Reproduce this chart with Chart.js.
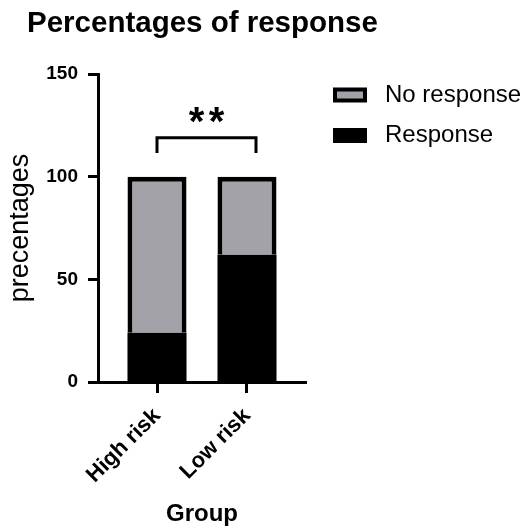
<!DOCTYPE html>
<html>
<head>
<meta charset="utf-8">
<script src="https://cdn.jsdelivr.net/npm/chart.js@4/dist/chart.umd.min.js"></script>
<style>
  html, body { margin: 0; padding: 0; background: #ffffff; }
  #wrap { width: 531px; height: 529px; }
</style>
</head>
<body>
<div id="wrap"><canvas id="chart" width="531" height="529"></canvas></div>
<script>
// ---- data ----
const chartTitle = 'Percentages of response';
const groups = ['High risk', 'Low risk'];
const seriesNames = ['No response', 'Response'];
const responsePct = [24, 62];
const noResponsePct = [76, 38];
const yTicks = [0, 50, 100, 150];
const yTitle = 'precentages';
const xTitle = 'Group';

// significance bracket between the two groups
const bracketSpan = [0, 1.1];       // group positions of the bracket ends
const bracketLevels = [119, 111.5]; // top bar, bottom of the end legs
const starsLevel = 130;
const starsText = '**';

// ---- style ----
const FONT = "'Liberation Sans', Arial, Helvetica, sans-serif";
const GREY = '#a3a2a8';
const BLACK = '#000000';
const X_PAD = 0.6556; // space left/right of the outer groups, in group units

Chart.defaults.font.family = FONT;
Chart.defaults.color = BLACK;

const annotations = {
  id: 'annotations',
  afterDraw(chart) {
    const { ctx, chartArea, scales: { x, y } } = chart;
    ctx.save();

    // title
    ctx.fillStyle = BLACK;
    ctx.font = 'bold 29.5px ' + FONT;
    ctx.textAlign = 'left';
    ctx.textBaseline = 'middle';
    ctx.fillText(chartTitle, 27, 23.5);

    // bracket
    const x0 = x.getPixelForValue(bracketSpan[0]);
    const x1 = x.getPixelForValue(bracketSpan[1]);
    const yTop = y.getPixelForValue(bracketLevels[0]);
    const yLeg = y.getPixelForValue(bracketLevels[1]);
    ctx.strokeStyle = BLACK;
    ctx.lineWidth = 3;
    ctx.lineJoin = 'miter';
    ctx.beginPath();
    ctx.moveTo(x0, yLeg);
    ctx.lineTo(x0, yTop);
    ctx.lineTo(x1, yTop);
    ctx.lineTo(x1, yLeg);
    ctx.stroke();

    // stars
    const mid = (x0 + x1) / 2;
    const cy = y.getPixelForValue(starsLevel);
    ctx.font = 'bold 40px ' + FONT;
    ctx.textAlign = 'center';
    ctx.textBaseline = 'alphabetic';
    const m = ctx.measureText('*');
    const base = cy + (m.actualBoundingBoxAscent - m.actualBoundingBoxDescent) / 2;
    const n = starsText.length;
    for (let i = 0; i < n; i++) {
      ctx.fillText('*', mid + (i - (n - 1) / 2) * 20, base);
    }

    // legend
    const items = [
      { label: seriesNames[0], fill: GREY },
      { label: seriesNames[1], fill: BLACK }
    ];
    const lx = chartArea.right + 27;
    items.forEach((it, i) => {
      const cyL = chartArea.top + 21 + i * 40.5;
      ctx.fillStyle = BLACK;
      ctx.fillRect(lx, cyL - 7.5, 34, 15);
      ctx.fillStyle = it.fill;
      ctx.fillRect(lx + 4, cyL - 3.5, 26, 7);
      ctx.fillStyle = BLACK;
      ctx.font = '24px ' + FONT;
      ctx.textAlign = 'left';
      ctx.textBaseline = 'middle';
      ctx.fillText(it.label, lx + 52, cyL);
    });

    ctx.restore();
  }
};

new Chart(document.getElementById('chart'), {
  type: 'bar',
  data: {
    datasets: [
      {
        label: seriesNames[1],
        data: groups.map((g, i) => ({ x: i, y: responsePct[i] })),
        backgroundColor: BLACK,
        borderWidth: 0
      },
      {
        label: seriesNames[0],
        data: groups.map((g, i) => ({ x: i, y: noResponsePct[i] })),
        backgroundColor: GREY,
        borderColor: BLACK,
        borderWidth: 5,
        borderSkipped: 'bottom'
      }
    ]
  },
  options: {
    responsive: false,
    animation: false,
    devicePixelRatio: 1,
    layout: { padding: { left: 0, right: 225, top: 74, bottom: 0 } },
    datasets: { bar: { barPercentage: 0.656, categoryPercentage: 1 } },
    plugins: {
      legend: { display: false },
      title: { display: false },
      tooltip: { enabled: false }
    },
    scales: {
      x: {
        type: 'linear',
        stacked: true,
        offset: false,
        min: -X_PAD,
        max: groups.length - 1 + X_PAD,
        afterBuildTicks: s => { s.ticks = groups.map((g, i) => ({ value: i })); },
        afterFit: s => { s.height = 147; },
        ticks: {
          callback: v => groups[v],
          autoSkip: false,
          minRotation: 45,
          maxRotation: 45,
          padding: 10,
          color: BLACK,
          font: { size: 22, weight: 'bold' }
        },
        grid: { offset: false, drawOnChartArea: false, drawTicks: true, tickLength: 11, tickWidth: 3, tickColor: BLACK },
        border: { display: true, color: BLACK, width: 3 },
        title: {
          display: true, text: xTitle, color: BLACK,
          font: { size: 24, weight: 'bold' },
          padding: { top: 0, bottom: 0 }
        }
      },
      y: {
        stacked: true,
        min: 0,
        max: 150,
        afterBuildTicks: s => { s.ticks = yTicks.map(v => ({ value: v })); },
        afterFit: s => { s.width = 98; },
        ticks: { padding: 10, color: BLACK, font: { size: 19, weight: 'bold' } },
        grid: { drawOnChartArea: false, drawTicks: true, tickLength: 10, tickWidth: 3, tickColor: BLACK },
        border: { display: true, color: BLACK, width: 3 },
        title: {
          display: true, text: yTitle, color: BLACK,
          font: { size: 27 },
          padding: { top: 4, bottom: 0 }
        }
      }
    }
  },
  plugins: [annotations]
});
</script>
</body>
</html>
